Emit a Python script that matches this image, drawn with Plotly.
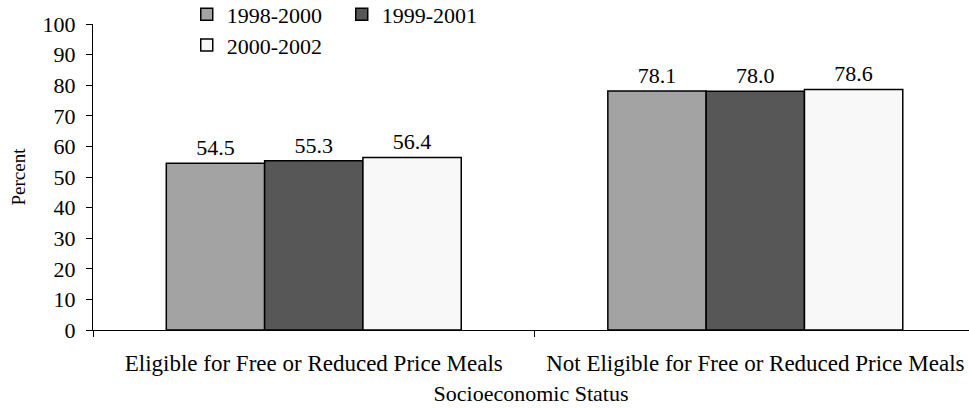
import plotly.graph_objects as go

categories = ["Eligible for Free or Reduced Price Meals", "Not Eligible for Free or Reduced Price Meals"]
series_names = ["1998-2000", "1999-2001", "2000-2002"]
values_1998_2000 = [54.5, 78.1]
values_1999_2001 = [55.3, 78.0]
values_2000_2002 = [56.4, 78.6]
colors = ["#a3a3a3", "#575757", "#f8f8f8"]
legends = ["legend", "legend", "legend2"]

FONT = "Liberation Serif, Times New Roman, serif"
FS = 22

fig = go.Figure()
for name, vals, col, lg in zip(series_names, [values_1998_2000, values_1999_2001, values_2000_2002], colors, legends):
    fig.add_trace(go.Bar(
        x=categories, y=vals, name=name, legend=lg,
        marker=dict(color=col, line=dict(color="black", width=1.5)),
        text=[f"{v:.1f}" for v in vals], textposition="outside",
        textfont=dict(family=FONT, size=FS, color="black"),
        cliponaxis=False,
    ))

leg_common = dict(orientation="h", xref="paper", yref="paper",
                  xanchor="left", yanchor="top",
                  font=dict(family=FONT, size=FS, color="black"),
                  bgcolor="rgba(0,0,0,0)", itemwidth=30,
                  entrywidth=110, entrywidthmode="pixels")

fig.update_layout(
    width=969, height=408,
    margin=dict(l=93, r=0, t=24, b=78, autoexpand=False),
    paper_bgcolor="white", plot_bgcolor="white",
    font=dict(family=FONT, size=FS, color="black"),
    barmode="group", bargap=0.332, bargroupgap=0,
    legend=dict(x=0.107, y=1.1, **leg_common),
    legend2=dict(x=0.107, y=0.999, **leg_common),
    xaxis=dict(
        title=dict(text="Socioeconomic Status", font=dict(family=FONT, size=FS), standoff=11),
        range=[-0.5, 1.484],
        automargin=False,
        showline=True, linecolor="black", linewidth=1,
        ticks="outside", tickson="boundaries", ticklen=6, tickcolor="black",
        ticklabelstandoff=12,
        showgrid=False, tickfont=dict(family=FONT, size=23),
    ),
    yaxis=dict(
        title=dict(text="Percent", font=dict(family=FONT, size=19), standoff=11),
        automargin=False,
        range=[0, 100], dtick=10, showline=True, linecolor="black", linewidth=1,
        ticks="outside", ticklen=6, tickcolor="black", showgrid=False,
        ticklabelstandoff=6,
        zeroline=False, tickfont=dict(family=FONT, size=FS),
    ),
)

fig.write_html("out.html", config={"displayModeBar": False},
               post_script="document.body.style.margin='0';")
